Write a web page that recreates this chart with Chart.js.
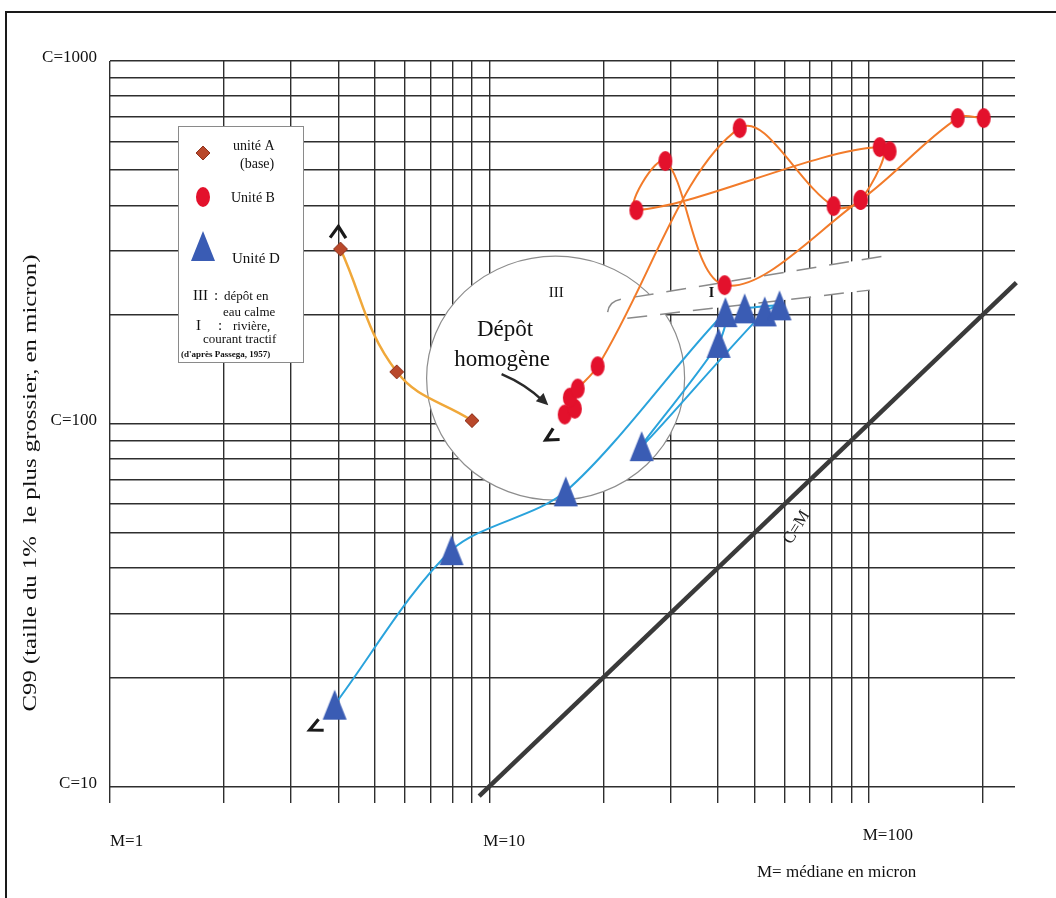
<!DOCTYPE html>
<html>
<head>
<meta charset="utf-8">
<script src="https://cdn.jsdelivr.net/npm/chart.js@4.4.1/dist/chart.umd.min.js"></script>
<style>
  html, body { margin: 0; padding: 0; background: #fff; }
  canvas { display: block; }
</style>
</head>
<body>
<canvas id="cmChart" width="1056" height="898"></canvas>
<script>
// ============================================================
// Diagramme CM (Passega) — C99 vs médiane, échelles log-log
// ============================================================

/* ── Data (microns) ─────────────────────────────────────────*/
const xGrid = [1, 2, 3, 4, 5, 6, 7, 8, 9, 10, 20, 30, 40, 50, 60, 70, 80, 90, 100, 200];
const yGrid = [10, 20, 30, 40, 50, 60, 70, 80, 90, 100, 200, 300, 400, 500, 600, 700, 800, 900, 1000];
const xLabelVals = [1, 10, 100];
const yLabelVals = [1000, 100, 10];

// unité A (base)
const unitA_M = [4.05, 5.7, 9.0];
const unitA_C = [303, 139, 102];

// Unité B, dans l'ordre du tracé
const unitB_M = [15.8, 16.8, 16.3, 17.1, 19.3, 45.7, 80.8, 95.2, 106.9, 24.4, 29.1, 41.7, 95.2, 171.6, 201];
const unitB_C = [106, 110, 118, 125, 144, 653, 398, 414, 579, 388, 530, 241, 414, 696, 696];
const unitB_extraM = [113.5];
const unitB_extraC = [564];

// Unité D, dans l'ordre du tracé
const unitD_M = [3.91, 7.95, 15.9, 41.9, 40.2, 25.2, 53.2, 58.2, 47.1];
const unitD_C = [16.8, 44.8, 65.1, 203, 167, 86.7, 204, 212, 208];

// droite C = M
const cmLine = [9.4, 245];

const legendNames = ["unité A", "Unité B", "Unité D"];

/* ── Annotations (data coords) ──────────────────────────────*/
const zoneIII = { m: 14.95, c: 133.5, rx: 129, ry: 122 };
const zoneIUpper = [[20.5, 203], [20.7, 218], [22.3, 220.5], [110, 290]];
const zoneILower = [[23.1, 195.4], [100.6, 233.5]];
const arrows = [
  { m: 4.0, c: 350, dir: -88, spread: 0.6 },
  { m: 14.07, c: 90.1, dir: 150, spread: 0.48 },
  { m: 3.36, c: 14.3, dir: 155, spread: 0.45 }
];

const FONT = "'Liberation Serif', 'Times New Roman', serif";

/* ── Marker images ──────────────────────────────────────────*/
function makeMarker(w, h, draw) {
  const c = document.createElement("canvas");
  c.width = w; c.height = h;
  draw(c.getContext("2d"), w, h);
  return c;
}
const diamondImg = makeMarker(16, 16, g => {
  g.beginPath(); g.moveTo(8, 1); g.lineTo(15, 8); g.lineTo(8, 15); g.lineTo(1, 8); g.closePath();
  g.fillStyle = "#b9482b"; g.fill();
  g.strokeStyle = "#8e331d"; g.lineWidth = 1; g.stroke();
});
const ellipseImg = makeMarker(16, 22, g => {
  g.beginPath(); g.ellipse(8, 11, 7, 10, 0, 0, Math.PI * 2);
  g.fillStyle = "#e3112c"; g.fill();
});
const triImg = makeMarker(26, 32, g => {
  g.beginPath(); g.moveTo(13, 1); g.lineTo(25, 31); g.lineTo(1, 31); g.closePath();
  g.fillStyle = "#3a5cb4"; g.fill();
});

const pts = (xs, ys) => xs.map((x, i) => ({ x, y: ys[i] }));

/* ── Drawing helpers ────────────────────────────────────────*/
function chevron(ctx, x, y, deg, spread) {
  const a = deg * Math.PI / 180, len = 14;
  ctx.beginPath();
  ctx.moveTo(x - len * Math.cos(a - spread), y - len * Math.sin(a - spread));
  ctx.lineTo(x, y);
  ctx.lineTo(x - len * Math.cos(a + spread), y - len * Math.sin(a + spread));
  ctx.strokeStyle = "#1a1a1a"; ctx.lineWidth = 3.2; ctx.lineJoin = "miter";
  ctx.stroke();
}

function drawLegend(ctx) {
  const bx = 178, by = 126, bw = 125, bh = 236;
  ctx.fillStyle = "#fff"; ctx.fillRect(bx, by, bw, bh);
  ctx.strokeStyle = "#8a8a8a"; ctx.lineWidth = 1; ctx.strokeRect(bx + 0.5, by + 0.5, bw, bh);

  ctx.drawImage(diamondImg, 195, 145);
  ctx.drawImage(ellipseImg, 195, 186);
  ctx.drawImage(triImg, 190, 230);

  ctx.fillStyle = "#111"; ctx.textAlign = "left"; ctx.textBaseline = "alphabetic";
  ctx.font = `14px ${FONT}`;
  ctx.fillText(legendNames[0], 233, 150);
  ctx.fillText("(base)", 240, 168);
  ctx.fillText(legendNames[1], 231, 202);
  ctx.font = `15px ${FONT}`;
  ctx.fillText(legendNames[2], 232, 263);

  ctx.font = `15px ${FONT}`;
  ctx.fillText("III", 193, 300); ctx.fillText(":", 214, 300);
  ctx.fillText("I", 196, 330); ctx.fillText(":", 218, 330);
  ctx.font = `13px ${FONT}`;
  ctx.fillText("dépôt en", 224, 300);
  ctx.fillText("eau calme", 223, 316);
  ctx.fillText("rivière,", 233, 330);
  ctx.fillText("courant tractif", 203, 343);
  ctx.font = `bold 9px ${FONT}`;
  ctx.fillText("(d'après Passega, 1957)", 181, 357);
}

/* ── Overlay plugin ─────────────────────────────────────────*/
const overlay = {
  id: "overlay",
  beforeDatasetsDraw(chart) {
    const { ctx, scales: { x, y } } = chart;
    const P = (m, c) => [x.getPixelForValue(m), y.getPixelForValue(c)];
    ctx.save();

    // zone III : dépôt en eau calme
    const [ex, ey] = P(zoneIII.m, zoneIII.c);
    ctx.beginPath();
    ctx.ellipse(ex, ey, zoneIII.rx, zoneIII.ry, 0, 0, Math.PI * 2);
    ctx.fillStyle = "#fff"; ctx.fill();
    ctx.strokeStyle = "#8d8d8d"; ctx.lineWidth = 1.2; ctx.stroke();

    // zone I : bande pointillée
    const u = zoneIUpper.map(p => P(p[0], p[1]));
    const l = zoneILower.map(p => P(p[0], p[1]));
    ctx.beginPath();
    ctx.moveTo(u[0][0], u[0][1]);
    ctx.quadraticCurveTo(u[1][0], u[1][1], u[2][0], u[2][1]);
    ctx.lineTo(u[3][0], u[3][1]);
    ctx.lineTo(l[1][0], l[1][1]);
    ctx.lineTo(l[0][0], l[0][1]);
    ctx.closePath();
    ctx.fillStyle = "#fff"; ctx.fill();

    ctx.setLineDash([20, 13]);
    ctx.strokeStyle = "#8a8a8a"; ctx.lineWidth = 1.5;
    ctx.beginPath();
    ctx.moveTo(u[0][0], u[0][1]);
    ctx.quadraticCurveTo(u[1][0], u[1][1], u[2][0], u[2][1]);
    ctx.lineTo(u[3][0], u[3][1]);
    ctx.stroke();
    ctx.beginPath();
    ctx.moveTo(l[0][0], l[0][1]);
    ctx.lineTo(l[1][0], l[1][1]);
    ctx.stroke();
    ctx.setLineDash([]);

    drawLegend(ctx);
    ctx.restore();
  },

  afterDatasetsDraw(chart) {
    const { ctx, scales: { x, y } } = chart;
    const P = (m, c) => [x.getPixelForValue(m), y.getPixelForValue(c)];
    ctx.save();

    arrows.forEach(a => { const [ax, ay] = P(a.m, a.c); chevron(ctx, ax, ay, a.dir, a.spread); });

    ctx.fillStyle = "#111";
    ctx.textAlign = "center"; ctx.textBaseline = "middle";
    ctx.font = `15px ${FONT}`;
    let p = P(15.0, 229); ctx.fillText("III", p[0], p[1]);
    ctx.font = `bold 14px ${FONT}`;
    p = P(38.5, 229); ctx.fillText("I", p[0], p[1]);

    ctx.font = `23px ${FONT}`;
    p = P(11.0, 181); ctx.fillText("Dépôt", p[0], p[1]);
    p = P(10.8, 149.6); ctx.fillText("homogène", p[0], p[1]);

    // flèche courbe
    const t0 = P(10.77, 137), t1 = P(12.46, 128.5), t2 = P(14.3, 112.5);
    ctx.strokeStyle = "#2a2a2a"; ctx.lineWidth = 2.5;
    ctx.beginPath(); ctx.moveTo(t0[0], t0[1]);
    ctx.quadraticCurveTo(t1[0], t1[1], t2[0] - 5, t2[1] - 4);
    ctx.stroke();
    const ang = Math.atan2(t2[1] - t1[1], t2[0] - t1[0]);
    ctx.beginPath();
    ctx.moveTo(t2[0], t2[1]);
    ctx.lineTo(t2[0] - 13 * Math.cos(ang - 0.45), t2[1] - 13 * Math.sin(ang - 0.45));
    ctx.lineTo(t2[0] - 13 * Math.cos(ang + 0.45), t2[1] - 13 * Math.sin(ang + 0.45));
    ctx.closePath(); ctx.fillStyle = "#2a2a2a"; ctx.fill();

    // C=M
    p = P(64.6, 51.8);
    ctx.translate(p[0], p[1]); ctx.rotate(-58 * Math.PI / 180);
    ctx.fillStyle = "#222"; ctx.font = `17px ${FONT}`;
    ctx.fillText("C=M", 0, 0);
    ctx.restore();
  },

  afterDraw(chart) {
    const { ctx, scales: { x, y } } = chart;
    ctx.save();
    ctx.fillStyle = "#111";
    ctx.font = `17px ${FONT}`;

    // tick labels
    ctx.textAlign = "right"; ctx.textBaseline = "middle";
    yLabelVals.forEach(v => ctx.fillText(`C=${v}`, 97, y.getPixelForValue(v) - 3));
    ctx.textAlign = "left";
    xLabelVals.forEach((v, i) => {
      const xp = x.getPixelForValue(v) - (i ? 6 : 0);
      ctx.fillText(`M=${v}`, xp, i === 2 ? 836 : 842);
    });
    ctx.fillText("M= médiane en micron", 757, 873);

    // y title
    const title = "C99 (taille du 1%  le plus grossier, en micron)";
    ctx.font = `18px ${FONT}`;
    const w = ctx.measureText(title).width;
    ctx.translate(31, 483);
    ctx.rotate(-Math.PI / 2);
    ctx.scale(457 / w, 1);
    ctx.textAlign = "center";
    ctx.fillText(title, 0, 0);
    ctx.restore();

    // cadre de la page
    ctx.save();
    ctx.strokeStyle = "#1a1a1a"; ctx.lineWidth = 2;
    ctx.beginPath();
    ctx.moveTo(6, 898); ctx.lineTo(6, 12); ctx.lineTo(1056, 12);
    ctx.stroke();
    ctx.restore();
  }
};

/* ── Chart ──────────────────────────────────────────────────*/
const gridStyle = { color: "#2e2e2e", lineWidth: 1.4, drawTicks: false };

new Chart(document.getElementById("cmChart"), {
  type: "scatter",
  data: {
    datasets: [
      {
        label: legendNames[2], data: pts(unitD_M, unitD_C), showLine: true,
        borderColor: "#2aa3dc", borderWidth: 2, tension: 0.3,
        pointStyle: triImg, pointRadius: 10
      },
      {
        label: legendNames[1], data: pts(unitB_extraM, unitB_extraC), showLine: false,
        pointStyle: ellipseImg, pointRadius: 8
      },
      {
        label: legendNames[1], data: pts(unitB_M, unitB_C), showLine: true,
        borderColor: "#f27b2a", borderWidth: 2, tension: 0.35,
        pointStyle: ellipseImg, pointRadius: 8
      },
      {
        label: legendNames[0], data: pts(unitA_M, unitA_C), showLine: true,
        borderColor: "#f0a83a", borderWidth: 2.5, tension: 0.4,
        pointStyle: diamondImg, pointRadius: 8
      },
      {
        label: "C=M", data: pts(cmLine, cmLine), showLine: true,
        borderColor: "#3a3a3a", borderWidth: 4.5, pointRadius: 0, clip: false
      }
    ]
  },
  options: {
    responsive: false,
    animation: false,
    devicePixelRatio: 1,
    layout: { padding: { left: 110, top: 61, right: 41, bottom: 95 } },
    plugins: { legend: { display: false }, tooltip: { enabled: false } },
    scales: {
      x: {
        type: "logarithmic", min: 1, max: 243,
        afterBuildTicks: s => { s.ticks = xGrid.map(v => ({ value: v })); },
        ticks: { display: false }, grid: gridStyle, border: { display: false }
      },
      y: {
        type: "logarithmic", min: 9, max: 1000,
        afterBuildTicks: s => { s.ticks = yGrid.map(v => ({ value: v })); },
        ticks: { display: false }, grid: gridStyle, border: { display: false }
      }
    }
  },
  plugins: [overlay]
});
</script>
</body>
</html>
